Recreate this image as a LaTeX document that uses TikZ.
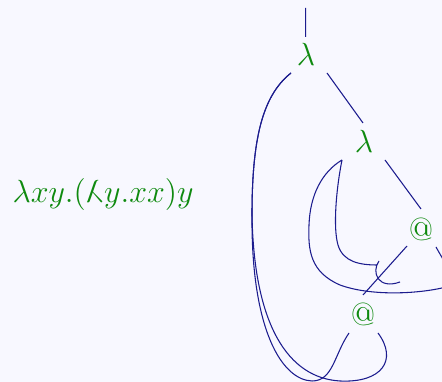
\documentclass[tikz,border=0pt]{standalone}
\usepackage{graphicx}
\usetikzlibrary{calc}
\definecolor{bgLav}{HTML}{F8F8FF}
\definecolor{wireBlue}{HTML}{1C1C8E}
\definecolor{termGreen}{HTML}{0F8A0F}

\begin{document}
\begin{tikzpicture}[x=0.375pt,y=-0.375pt,
    lbl/.style={text=termGreen,font=\large,inner sep=0pt},
    wire/.style={draw=wireBlue,line width=0.4pt}]
  \fill[bgLav] (0,0) rectangle (442,382);
  \useasboundingbox (0,0) rectangle (442,382);
  \clip (0,0) rectangle (442,382);

  % term and its graph
  \node[lbl,anchor=base west] (term) at (12,203) {$\lambda xy.(\reflectbox{$\lambda$}y.xx)y$};
  \node[lbl] (lam1) at (306,54) {$\lambda$};
  \node[lbl] (lam2) at (364,141) {$\lambda$};
  \node[lbl] (app1) at (421,229) {@};
  \node[lbl] (app2) at (363,314) {@};
  \coordinate (root) at (305.6,8);
  \coordinate (cusp) at (377,265);
  \coordinate (hook) at (379,261);
  \coordinate (loose) at (400,282);

  % tree edges
  \draw[wire] (root) -- ($(lam1)+(-0.4,-17)$);
  \draw[wire] ($(lam1)+(21,19)$) -- ($(lam2)+(-1,-18)$);
  \draw[wire] ($(lam2)+(21,19)$) -- ($(app1)+(0,-20)$);
  \draw[wire] ($(app1)+(-14,17)$) -- ($(app2)+(0,-19)$);

  % back links of x
  \draw[wire] ($(lam1)+(-15,19)$) .. controls (262,96) and (252,140) .. (252,215)
    .. controls (251,330) and (282,380) .. (312,381)
    .. controls (333,381) and (334,355) .. ($(app2)+(-14,19)$);
  \draw[wire] ($(lam1)+(-15,19)$) .. controls (262,96) and (252,140) .. (252,215)
    .. controls (254,325) and (288,378) .. (340,381)
    .. controls (382,383) and (398,360) .. ($(app2)+(15,19)$);

  % back links of y
  \draw[wire] ($(app1)+(15,18)$) .. controls (452,276) and (462,284) .. (442,288)
    .. controls (415,294) and (370,296) .. (340,285)
    .. controls (310,272) and (308,250) .. (309,225)
    .. controls (310,195) and (322,172) .. ($(lam2)+(-22,19)$);
  \draw[wire] ($(lam2)+(-22,19)$) .. controls (336,190) and (333,228) .. (338,245)
    .. controls (343,262) and (360,265) .. (cusp);
  \draw[wire] (hook) .. controls (371,272) and (378,290) .. (loose);
\end{tikzpicture}
\end{document}
